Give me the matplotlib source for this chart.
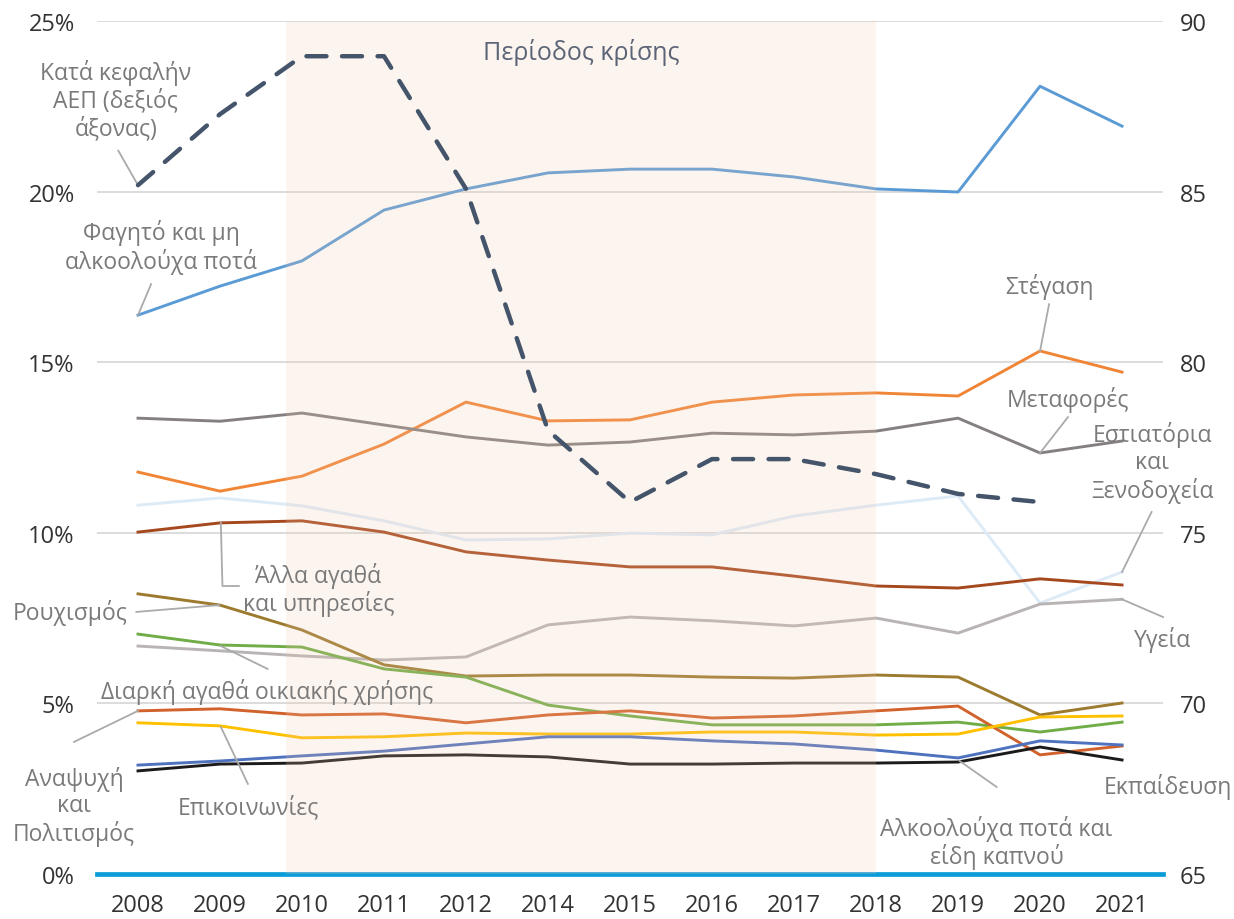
import matplotlib
matplotlib.use('Agg')
import matplotlib.pyplot as plt

plt.rcParams['font.family'] = ['Open Sans', 'DejaVu Sans']

# --- DATA (shares of household spending, %; GDP per capita on right axis) ---
years = ['2008', '2009', '2010', '2011', '2012', '2014', '2015',
         '2016', '2017', '2018', '2019', '2020', '2021']

food = [16.38, 17.23, 17.97, 19.46, 20.08, 20.55, 20.66, 20.66, 20.43, 20.08, 19.99, 23.09, 21.92]
housing = [11.78, 11.22, 11.66, 12.60, 13.83, 13.28, 13.31, 13.83, 14.04, 14.10, 14.01, 15.33, 14.71]
transport = [13.36, 13.27, 13.51, 13.16, 12.81, 12.57, 12.66, 12.92, 12.87, 12.98, 13.36, 12.34, 12.69]
restaurants = [10.81, 11.02, 10.79, 10.35, 9.79, 9.82, 9.99, 9.94, 10.49, 10.81, 11.08, 7.94, 8.85]
other_goods = [10.02, 10.29, 10.35, 10.02, 9.44, 9.20, 9.00, 9.00, 8.73, 8.44, 8.38, 8.65, 8.47]
health = [6.68, 6.54, 6.39, 6.27, 6.36, 7.30, 7.53, 7.42, 7.27, 7.50, 7.06, 7.91, 8.05]
clothing = [8.21, 7.88, 7.15, 6.13, 5.80, 5.83, 5.83, 5.77, 5.74, 5.83, 5.77, 4.66, 5.01]
durables = [7.03, 6.71, 6.65, 6.01, 5.77, 4.95, 4.63, 4.37, 4.37, 4.37, 4.45, 4.16, 4.45]
recreation = [4.78, 4.84, 4.66, 4.69, 4.43, 4.66, 4.78, 4.57, 4.63, 4.78, 4.92, 3.49, 3.75]
communications = [4.43, 4.34, 3.99, 4.02, 4.13, 4.10, 4.10, 4.16, 4.16, 4.07, 4.10, 4.60, 4.63]
alcohol_tobacco = [3.19, 3.31, 3.46, 3.60, 3.81, 4.02, 4.02, 3.90, 3.81, 3.63, 3.40, 3.90, 3.78]
education = [3.02, 3.22, 3.25, 3.46, 3.49, 3.43, 3.22, 3.22, 3.25, 3.25, 3.28, 3.72, 3.34]

gdp_per_capita = [85.19, 87.27, 88.97, 88.97, 85.08, 78.00, 75.90, 77.16, 77.16, 76.72, 76.14, 75.90, None]

series = [
    (food, '#5B9BD5'),
    (housing, '#F08536'),
    (transport, '#858080'),
    (restaurants, '#DDEBF7'),
    (other_goods, '#A6481D'),
    (health, '#B8B4B4'),
    (clothing, '#9C7A2E'),
    (durables, '#70AD47'),
    (recreation, '#D2622C'),
    (communications, '#FFC000'),
    (alcohol_tobacco, '#4F72BE'),
    (education, '#1C1A1A'),
]

# --- FIGURE ---
fig = plt.figure(figsize=(12.34, 9.2), dpi=100)
ax = fig.add_axes([0.0786, 0.049, 0.8639, 0.927])
ax2 = ax.twinx()

x = list(range(len(years)))

for vals, col in series:
    ax.plot(x, vals, color=col, lw=2.1, zorder=2, solid_joinstyle='round')

ax.axhline(0, color='#0A9BD8', lw=3.4, zorder=2, clip_on=False)

# crisis period shading (drawn over the lines, lightly)
ax.axvspan(1.8, 9.0, color='#F2C9AE', alpha=0.2, lw=0, zorder=3)

gx = [i for i, v in zip(x, gdp_per_capita) if v is not None]
gy = [v for v in gdp_per_capita if v is not None]
ax2.plot(gx, gy, color='#44546A', lw=3.2, ls=(0, (4.5, 3.5)), dash_capstyle='round', zorder=3)

# axes
ax.set_xlim(-0.5, 12.5)
ax.set_ylim(0, 25)
ax2.set_ylim(65, 90)
ax.set_yticks([0, 5, 10, 15, 20, 25])
ax.set_yticklabels([f'{v}%' for v in [0, 5, 10, 15, 20, 25]])
ax2.set_yticks([65, 70, 75, 80, 85, 90])
ax.set_xticks(x)
ax.set_xticklabels(years)
ax.yaxis.grid(True, color='#D9D9D9', lw=1.3, zorder=0)
ax.set_axisbelow(True)
for a in (ax, ax2):
    for s in a.spines.values():
        s.set_visible(False)
    a.tick_params(length=0, labelsize=17, colors='#333333')
ax.tick_params(axis='y', pad=16)
ax.tick_params(axis='x', pad=14)
ax2.tick_params(axis='y', pad=12)

# --- LABELS ---
lab = dict(fontsize=16.5, color='#7A7A7A', ha='center', va='center', zorder=6)
lead = dict(color='#AAAAAA', lw=1.3, zorder=5, clip_on=False)

ax.text(5.4, 24.1, 'Περίοδος κρίσης', fontsize=18, color='#5B6577', ha='center', va='center', zorder=6)

ax.text(-0.27, 22.7, 'Κατά κεφαλήν\nΑΕΠ (δεξιός\nάξονας)', linespacing=1.15, **lab)
ax.plot([-0.24, 0.0], [21.2, 20.19], **lead)

ax.text(0.28, 18.38, 'Φαγητό και μη\nαλκοολούχα ποτά', linespacing=1.15, **lab)
ax.plot([0.16, 0.0], [17.29, 16.38], **lead)

ax.text(11.12, 17.23, 'Στέγαση', **lab)
ax.plot([11.11, 11.0], [16.7, 15.33], **lead)

ax.text(11.34, 13.92, 'Μεταφορές', **lab)
ax.plot([11.34, 11.0], [13.39, 12.34], **lead)

ax.text(12.37, 12.07, 'Εστιατόρια\nκαι\nΞενοδοχεία', linespacing=1.15, **lab)
ax.plot([12.36, 12.0], [10.61, 8.85], **lead)

ax.text(2.2, 8.35, 'Άλλα αγαθά\nκαι υπηρεσίες', linespacing=1.1, **lab)
ax.plot([1.01, 1.03, 1.23], [10.29, 8.44, 8.44], **lead)

ax.text(-0.83, 7.68, 'Ρουχισμός', **lab)
ax.plot([-0.02, 0.99], [7.68, 7.88], **lead)

ax.text(1.58, 5.36, 'Διαρκή αγαθά οικιακής χρήσης', **lab)
ax.plot([1.58, 1.01], [6.01, 6.68], **lead)

ax.text(-0.78, 1.99, 'Αναψυχή\nκαι\nΠολιτισμός', linespacing=1.15, **lab)
ax.plot([-0.78, 0.0], [3.87, 4.78], **lead)

ax.text(1.34, 1.96, 'Επικοινωνίες', **lab)
ax.plot([1.34, 1.01], [2.64, 4.31], **lead)

ax.text(12.5, 6.89, 'Υγεία', **lab)
ax.plot([12.5, 12.0], [7.53, 8.05], **lead)

ax.text(12.56, 2.58, 'Εκπαίδευση', **lab)

ax.text(10.47, 0.94, 'Αλκοολούχα ποτά και\nείδη καπνού', linespacing=1.1, **lab)
ax.plot([10.47, 10.02], [2.55, 3.31], **lead)

fig.savefig('out.png', dpi=100)
